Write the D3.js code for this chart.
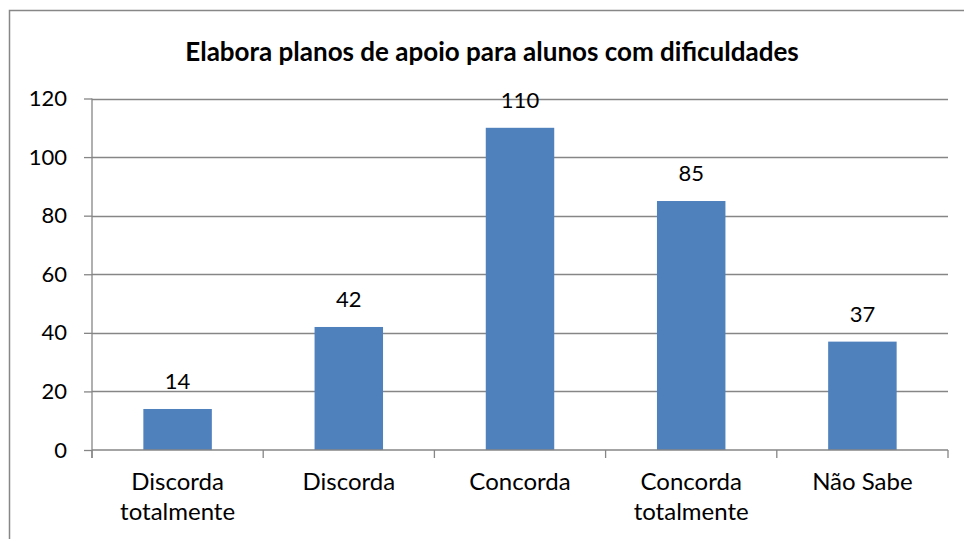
<!DOCTYPE html>
<html>
<head>
<meta charset="utf-8">
<script src="https://cdn.jsdelivr.net/npm/d3@7"></script>
<style>
  body { margin: 0; background: #fff; }
  svg text { font-family: Lato, "Open Sans", sans-serif; fill: #000; }
</style>
</head>
<body>
<div id="chart"></div>
<script>
// chart data
var title = "Elabora planos de apoio para alunos com dificuldades";
var categories = ["Discorda totalmente", "Discorda", "Concorda", "Concorda totalmente", "Não Sabe"];
var categoryLines = [["Discorda", "totalmente"], ["Discorda"], ["Concorda"], ["Concorda", "totalmente"], ["Não Sabe"]];
var values = [14, 42, 110, 85, 37];
var yTicks = [0, 20, 40, 60, 80, 100, 120];

var w = 964, h = 539;
var plot = { left: 92, right: 948, top: 98.5, bottom: 450 };

var svg = d3.select("#chart").append("svg")
  .attr("width", w)
  .attr("height", h);

// outer frame (right and bottom edges fall outside the picture)
svg.append("rect")
  .attr("x", 9.5).attr("y", 10.5)
  .attr("width", 980).attr("height", 560)
  .attr("fill", "none")
  .attr("stroke", "#878787")
  .attr("stroke-width", 1.5);

svg.append("text")
  .attr("x", 492).attr("y", 61)
  .attr("text-anchor", "middle")
  .attr("font-size", 26)
  .attr("font-weight", "bold")
  .text(title);

var x = d3.scaleBand()
  .domain(categories)
  .range([plot.left, plot.right])
  .paddingInner(0.6)
  .paddingOuter(0.3);

var y = d3.scaleLinear()
  .domain([0, 120])
  .range([plot.bottom, plot.top]);

// gridlines
svg.append("g").selectAll("line")
  .data(yTicks.filter(function(d) { return d > 0; }))
  .enter().append("line")
  .attr("x1", plot.left).attr("x2", plot.right)
  .attr("y1", function(d) { return Math.round(y(d)) + 0.5; })
  .attr("y2", function(d) { return Math.round(y(d)) + 0.5; })
  .attr("stroke", "#868686")
  .attr("stroke-width", 1.3);

// y axis
var yAxis = svg.append("g")
  .attr("transform", "translate(" + plot.left + ",0)")
  .call(d3.axisLeft(y).tickValues(yTicks).tickSize(8).tickPadding(17));
yAxis.select(".domain").remove();
yAxis.append("line")
  .attr("x1", 0).attr("x2", 0)
  .attr("y1", plot.top).attr("y2", plot.bottom + 8)
  .attr("stroke", "#868686").attr("stroke-width", 1.3);
yAxis.selectAll(".tick line").attr("stroke", "#868686").attr("stroke-width", 1.3);
yAxis.selectAll("text").attr("font-size", 22).attr("font-family", "Lato");

// bars
svg.append("g").selectAll("rect")
  .data(values)
  .enter().append("rect")
  .attr("x", function(d, i) { return x(categories[i]); })
  .attr("y", function(d) { return y(d); })
  .attr("width", x.bandwidth())
  .attr("height", function(d) { return y(0) - y(d); })
  .attr("fill", "#4f81bd");

// value labels
svg.append("g").selectAll("text")
  .data(values)
  .enter().append("text")
  .attr("x", function(d, i) { return x(categories[i]) + x.bandwidth() / 2; })
  .attr("y", function(d) { return y(d) - 20; })
  .attr("text-anchor", "middle")
  .attr("font-size", 22)
  .text(function(d) { return d; });

// x axis line and ticks at category boundaries
var step = x.step();
var bounds = d3.range(categories.length + 1).map(function(i) { return plot.left + i * step; });
svg.append("line")
  .attr("x1", plot.left).attr("x2", plot.right)
  .attr("y1", plot.bottom).attr("y2", plot.bottom)
  .attr("stroke", "#868686").attr("stroke-width", 1.3);
svg.append("g").selectAll("line")
  .data(bounds)
  .enter().append("line")
  .attr("x1", function(d) { return d; }).attr("x2", function(d) { return d; })
  .attr("y1", plot.bottom).attr("y2", plot.bottom + 8)
  .attr("stroke", "#868686").attr("stroke-width", 1.3);

// category labels
var cat = svg.append("g").selectAll("text")
  .data(categoryLines)
  .enter().append("text")
  .attr("text-anchor", "middle")
  .attr("font-size", 24)
  .attr("x", function(d, i) { return x(categories[i]) + x.bandwidth() / 2; })
  .attr("y", 490);
cat.selectAll("tspan")
  .data(function(d) { return d; })
  .enter().append("tspan")
  .attr("x", function() { return d3.select(this.parentNode).attr("x"); })
  .attr("dy", function(d, i) { return i === 0 ? 0 : 30; })
  .text(function(d) { return d; });
</script>
</body>
</html>
